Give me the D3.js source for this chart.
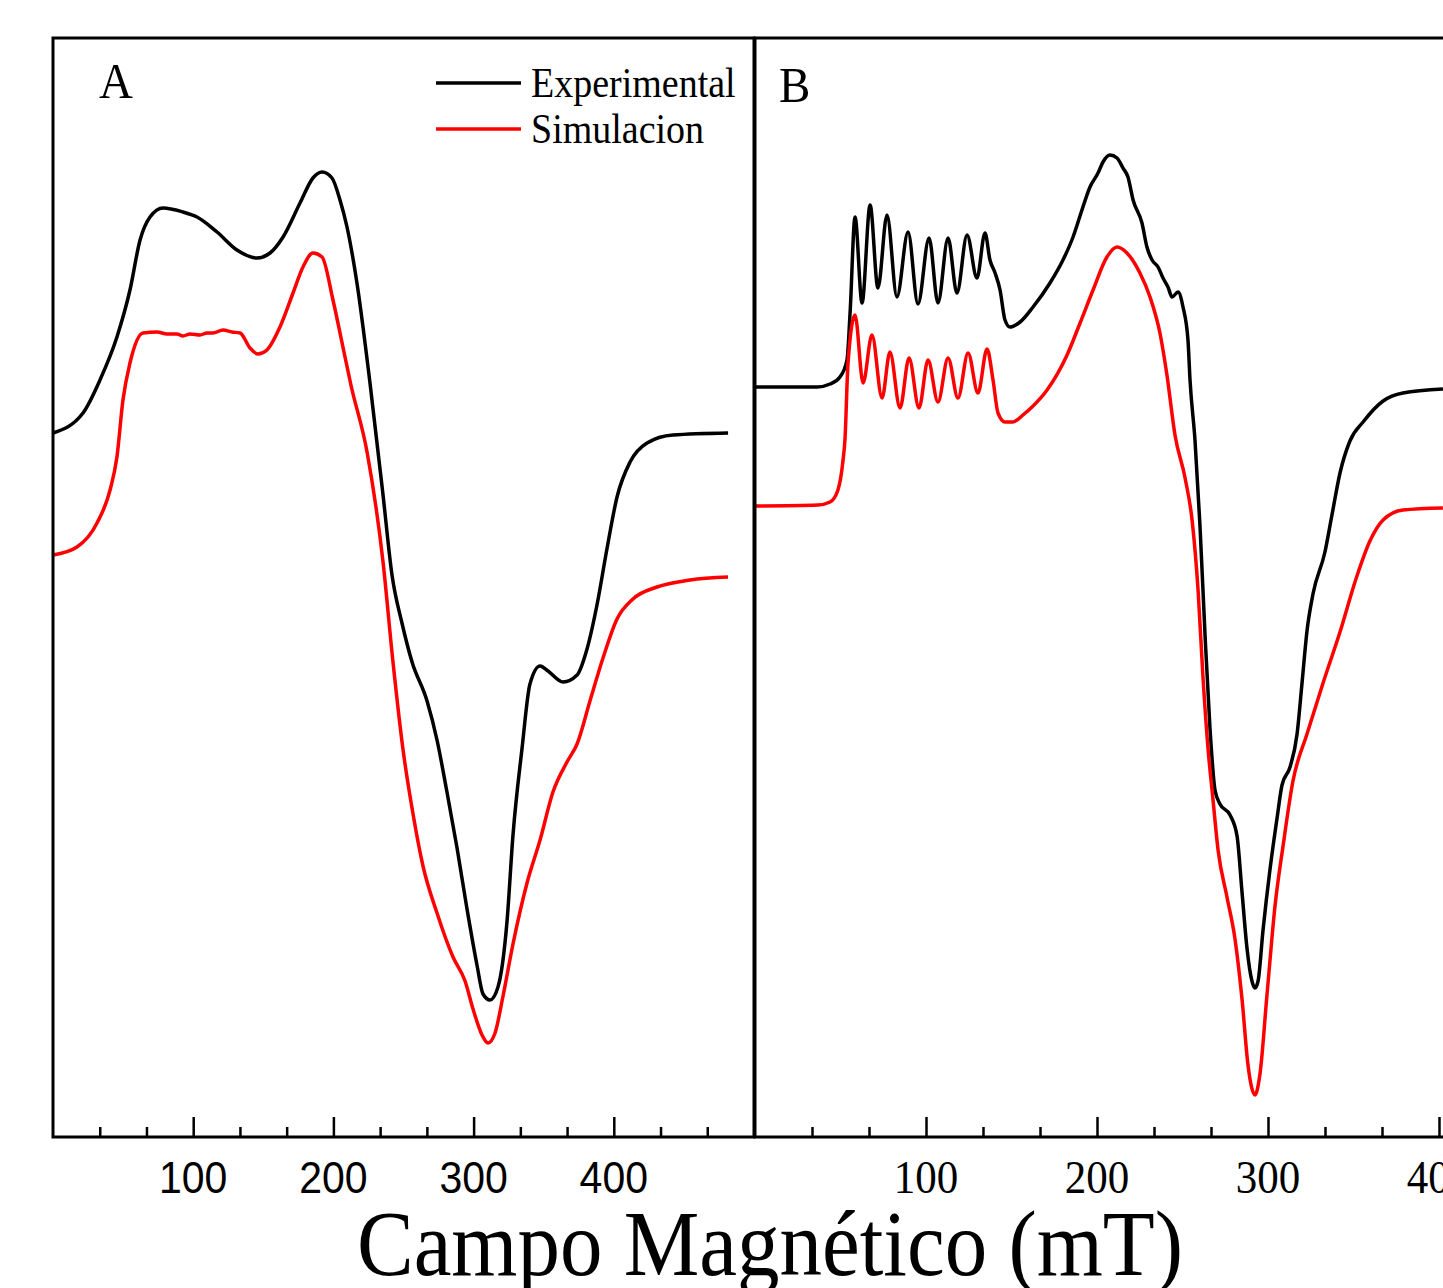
<!DOCTYPE html>
<html>
<head>
<meta charset="utf-8">
<script src="https://cdn.jsdelivr.net/npm/d3@7"></script>
<style>
  body { margin: 0; background: #fff; }
  svg { display: block; }
</style>
</head>
<body>
<svg width="1443" height="1288"></svg>
<script>
// EPR spectra: [field (mT), intensity (a.u.)]
const expA = [[0,2.54],[21.4,2.74],[33.5,3.07],[45.6,3.50],[54.9,3.97],[62.1,4.47],[69.2,4.70],[78.5,4.79],[92.7,4.75],[102.7,4.70],[117,4.55],[131.2,4.37],[145.5,4.29],[154.8,4.34],[164.1,4.50],[176.2,4.84],[185.4,5.09],[191.9,5.15],[199,5.09],[204.7,4.87],[209.7,4.60],[216.8,4.04],[226.1,3.04],[235.4,1.92],[241.8,1.12],[248.9,0.64],[256.1,0.25],[266.8,-0.14],[273.9,-0.53],[281,-1.05],[288.2,-1.61],[295.3,-2.22],[302.4,-2.78],[306.7,-3.07],[311.7,-3.13],[317.4,-3.00],[323.8,-2.35],[328.1,-1.48],[334.5,-0.62],[340.2,0.03],[347.4,0.21],[353.1,0.16],[363.8,0.05],[373.8,0.12],[380.9,0.38],[388,0.82],[395.1,1.38],[402.3,1.90],[411.6,2.25],[423.7,2.44],[442.2,2.52],[481.5,2.54]];

const simA = [[0,1.32],[17.1,1.40],[31.4,1.64],[40.7,1.97],[45.6,2.30],[49.9,2.87],[54.9,3.24],[64.2,3.54],[74.2,3.55],[81.3,3.53],[88.4,3.53],[92.7,3.51],[97.7,3.53],[104.8,3.52],[109.8,3.54],[114.1,3.54],[121.3,3.57],[127.7,3.55],[133.4,3.54],[140.5,3.39],[146.2,3.33],[152.6,3.37],[161.9,3.60],[171.2,3.94],[178.3,4.20],[185.4,4.34],[191.9,4.30],[199.7,3.87],[206.8,3.40],[212.5,3.02],[224,2.35],[235.4,1.25],[242.5,0.25],[249.6,-0.62],[256.8,-1.27],[263.9,-1.79],[273.9,-2.26],[285.3,-2.70],[293.9,-2.94],[299.6,-3.22],[306,-3.48],[310.3,-3.56],[315.3,-3.46],[321,-3.09],[328.1,-2.57],[338.1,-1.96],[347.4,-1.53],[356.6,-1.05],[366.6,-0.75],[373.8,-0.57],[383,-0.14],[392.3,0.29],[402.3,0.68],[413.7,0.88],[430.8,1.00],[454.4,1.07],[481.5,1.10]];

const expB = [[0,3.00],[36.3,3.00],[43.9,3.03],[49.7,3.10],[53.8,3.27],[55.6,3.74],[58.5,4.70],[62.6,3.84],[67.3,4.82],[71.9,3.99],[77.2,4.72],[83,3.90],[89.5,4.55],[95.3,3.83],[101.8,4.49],[107,3.84],[112.9,4.49],[118.1,3.94],[124,4.52],[129.8,4.09],[134.5,4.54],[137.4,4.27],[140.4,4.14],[143.3,3.97],[146.2,3.67],[149.1,3.60],[155,3.65],[162.6,3.80],[172.5,4.04],[180.1,4.27],[186,4.50],[191.2,4.77],[195.9,5.00],[200.6,5.14],[203.5,5.25],[207.6,5.32],[211.7,5.29],[215.2,5.19],[218.1,5.10],[221.1,4.87],[226.3,4.64],[229.2,4.40],[232.2,4.27],[235.7,4.20],[238.6,4.09],[241.5,4.00],[243.9,3.90],[247.4,3.95],[250.3,3.80],[253.2,3.47],[254.4,3.07],[257.3,2.47],[260.2,1.62],[263.2,0.51],[266.1,-0.42],[269,-1.03],[271.9,-1.17],[277.8,-1.28],[281.9,-1.49],[284.8,-2.05],[287.7,-2.61],[290.6,-2.94],[292.4,-3.01],[294.2,-2.94],[297.1,-2.43],[301.2,-1.82],[305.3,-1.31],[308.2,-0.98],[312.9,-0.80],[317,-0.47],[319.9,0.04],[322.8,0.56],[326.3,0.93],[333.3,1.35],[337.4,1.72],[342.1,2.14],[347.9,2.46],[355.6,2.65],[367.3,2.86],[378.9,2.94],[402.3,2.98]];

const simB = [[0,1.81],[36.8,1.82],[43.9,1.85],[48.5,1.97],[51.5,2.27],[52.6,2.47],[54.4,3.24],[58.5,3.72],[63.2,3.04],[68.4,3.52],[74.3,2.89],[78.9,3.35],[84.8,2.79],[90.1,3.29],[95.9,2.79],[101.2,3.27],[107,2.85],[112.9,3.29],[118.7,2.89],[124.6,3.34],[130.4,2.94],[135.7,3.38],[139.2,3.07],[142.1,2.74],[146.2,2.65],[150.9,2.65],[156.7,2.72],[162.6,2.81],[170.8,2.97],[182.5,3.32],[190.1,3.64],[197.7,3.97],[205.8,4.30],[211.7,4.40],[217.5,4.34],[225.1,4.14],[231,3.90],[236.8,3.54],[240.9,3.12],[245.6,2.52],[251.5,2.09],[255.6,1.67],[259.1,0.97],[262,0.09],[264.9,-0.61],[267.8,-1.12],[270.8,-1.63],[276,-2.10],[280.7,-2.52],[284.8,-3.12],[288.3,-3.78],[292.4,-4.08],[295.3,-3.87],[299.4,-3.08],[304.1,-2.19],[308.8,-1.59],[314.6,-0.94],[322.8,-0.47],[332.2,0.04],[342.1,0.55],[352,1.11],[359.6,1.46],[367.3,1.67],[378.9,1.77],[402.3,1.79]];

const majorTicks = [100, 200, 300, 400];
const minorTicks = [100/3, 200/3, 400/3, 500/3, 700/3, 800/3, 1000/3, 1100/3, 1300/3, 1400/3];
const legendLabels = ["Experimental", "Simulacion"];
const seriesColors = ["#000000", "#ff0000"];

const serif = "'Liberation Serif', 'Times New Roman', serif";
const sans = "'Liberation Sans', Arial, sans-serif";

const plotTop = 38, plotBottom = 1137;
const svg = d3.select("svg");

const y = d3.scaleLinear().domain([-4.5, 6.49]).range([plotBottom, plotTop]);

// panel A spans 0-500 mT, panel B is wider and runs off the right edge
const xA = d3.scaleLinear().domain([0, 500]).range([53, 754]);
const xB = d3.scaleLinear().domain([0, 500]).range([755, 1610]);

function drawPanel(x, exp, sim, label, labelPos, labelFont, closedRight) {
    const g = svg.append("g");

    const line = d3.line()
        .x(d => x(d[0]))
        .y(d => y(d[1]))
        .curve(d3.curveMonotoneX);

    [exp, sim].forEach((s, i) => {
        g.append("path")
            .datum(s)
            .attr("d", line)
            .attr("fill", "none")
            .attr("stroke", seriesColors[i])
            .attr("stroke-width", 3.5)
            .attr("stroke-linejoin", "round");
    });

    // frame
    const x0 = x.range()[0], x1 = x.range()[1];
    g.append("path")
        .attr("d", closedRight
            ? `M${x0},${plotTop}H${x1}V${plotBottom}H${x0}Z`
            : `M${x1},${plotTop}H${x0}V${plotBottom}H${x1}`)
        .attr("fill", "none")
        .attr("stroke", "#000")
        .attr("stroke-width", 3);

    // inward ticks
    g.append("g")
        .attr("transform", `translate(0,${plotBottom})`)
        .call(d3.axisBottom(x).tickValues(minorTicks).tickSize(-10).tickFormat(""))
        .call(a => a.select(".domain").remove())
        .selectAll("line").attr("stroke-width", 2.5);

    g.append("g")
        .attr("transform", `translate(0,${plotBottom})`)
        .call(d3.axisBottom(x).tickValues(majorTicks).tickSize(-20).tickFormat(""))
        .call(a => a.select(".domain").remove())
        .selectAll("line").attr("stroke-width", 2.5);

    // tick labels
    majorTicks.forEach(v => {
        g.append("text")
            .attr("transform", `translate(${x(v)},1193) scale(1,1.1)`)
            .attr("text-anchor", "middle")
            .style("font-family", labelFont)
            .style("font-size", labelFont === sans ? "41px" : "43px")
            .text(v);
    });

    // panel letter
    g.append("text")
        .attr("transform", `translate(${labelPos[0]},${labelPos[1]}) scale(1,1.1)`)
        .style("font-family", serif)
        .style("font-size", "47px")
        .text(label);
}

drawPanel(xA, expA, simA, "A", [99, 98], sans, true);
drawPanel(xB, expB, simB, "B", [779, 102], serif, false);

// legend
const legend = svg.append("g");
legendLabels.forEach((name, i) => {
    const ly = 83 + i * 46;
    legend.append("line")
        .attr("x1", 436).attr("x2", 521)
        .attr("y1", ly).attr("y2", ly)
        .attr("stroke", seriesColors[i])
        .attr("stroke-width", 3.5);
    legend.append("text")
        .attr("transform", `translate(531,${ly + 14}) scale(1,1.1)`)
        .style("font-family", serif)
        .style("font-size", "38px")
        .text(name);
});

// axis title
svg.append("text")
    .attr("transform", "translate(770,1275) scale(1,1.1)")
    .attr("text-anchor", "middle")
    .style("font-family", serif)
    .style("font-size", "85px")
    .text("Campo Magnético (mT)");
</script>
</body>
</html>
